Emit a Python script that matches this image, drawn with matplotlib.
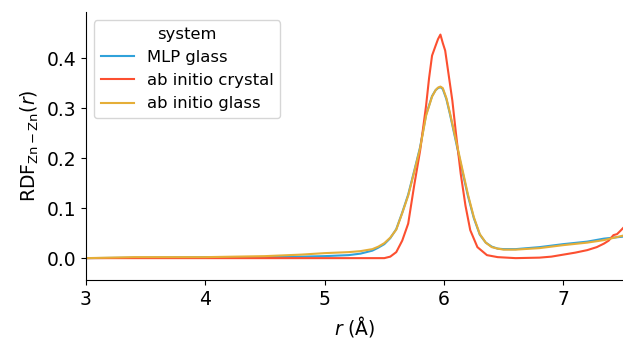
import matplotlib
matplotlib.use('Agg')
import matplotlib.pyplot as plt

# MLP glass
r_mlp = [3.0, 3.5, 4.0, 4.5, 4.8, 5.0, 5.2, 5.3, 5.4, 5.45, 5.5, 5.55, 5.6, 5.65, 5.7, 5.75,
         5.8, 5.85, 5.9, 5.93, 5.95, 5.97, 5.99, 6.02, 6.05, 6.1, 6.15, 6.2, 6.25, 6.3, 6.35,
         6.4, 6.45, 6.5, 6.6, 6.8, 7.0, 7.2, 7.34, 7.5]
g_mlp = [0.0, 0.001, 0.002, 0.002, 0.003, 0.004, 0.006, 0.009, 0.015, 0.021, 0.028, 0.040,
         0.058, 0.091, 0.127, 0.174, 0.222, 0.287, 0.324, 0.336, 0.340, 0.342, 0.338, 0.318,
         0.288, 0.233, 0.178, 0.125, 0.080, 0.047, 0.031, 0.023, 0.019, 0.018, 0.018, 0.022,
         0.028, 0.033, 0.039, 0.043]

# ab initio crystal
r_cry = [3.0, 4.0, 5.0, 5.5, 5.55, 5.6, 5.65, 5.7, 5.75, 5.8, 5.85, 5.875, 5.9, 5.93, 5.95,
         5.97, 5.99, 6.01, 6.04, 6.07, 6.1, 6.14, 6.18, 6.22, 6.28, 6.36, 6.45, 6.6, 6.8, 6.9,
         7.0, 7.1, 7.2, 7.28, 7.34, 7.38, 7.42, 7.45, 7.48, 7.5]
g_cry = [0.0, 0.0, 0.0, 0.0, 0.003, 0.012, 0.035, 0.069, 0.145, 0.215, 0.305, 0.360, 0.405,
         0.425, 0.438, 0.447, 0.430, 0.415, 0.365, 0.315, 0.250, 0.169, 0.105, 0.056, 0.022,
         0.006, 0.002, 0.0, 0.001, 0.003, 0.007, 0.011, 0.016, 0.022, 0.029, 0.035, 0.046,
         0.048, 0.055, 0.060]

# ab initio glass
r_gls = [3.0, 3.4, 4.0, 4.5, 4.8, 5.0, 5.2, 5.3, 5.4, 5.45, 5.5, 5.55, 5.6, 5.65, 5.7, 5.75,
         5.8, 5.85, 5.9, 5.93, 5.95, 5.97, 5.99, 6.02, 6.05, 6.1, 6.15, 6.2, 6.25, 6.3, 6.35,
         6.4, 6.45, 6.5, 6.6, 6.8, 7.0, 7.2, 7.34, 7.5]
g_gls = [0.0, 0.002, 0.002, 0.004, 0.007, 0.010, 0.012, 0.014, 0.018, 0.023, 0.030, 0.041,
         0.057, 0.090, 0.125, 0.172, 0.220, 0.285, 0.323, 0.336, 0.341, 0.343, 0.340, 0.320,
         0.290, 0.236, 0.182, 0.128, 0.082, 0.048, 0.031, 0.022, 0.019, 0.017, 0.017, 0.020,
         0.026, 0.031, 0.036, 0.045]

fig = plt.figure(figsize=(6.23, 3.45), dpi=100)
ax = fig.add_axes([0.138, 0.188, 0.862, 0.777])

ax.plot(r_mlp, g_mlp, color='#30a2da', lw=1.5, label='MLP glass')
ax.plot(r_cry, g_cry, color='#fc4f30', lw=1.5, label='ab initio crystal')
ax.plot(r_gls, g_gls, color='#e5ae38', lw=1.5, label='ab initio glass')

ax.set_xlim(3, 7.5)
ax.set_ylim(-0.044, 0.492)
ax.set_xticks([3, 4, 5, 6, 7])
ax.set_yticks([0.0, 0.1, 0.2, 0.3, 0.4])
ax.tick_params(labelsize=13.5)
ax.spines['top'].set_visible(False)
ax.spines['right'].set_visible(False)
ax.set_xlabel(r'$r$ (Å)', fontsize=13.5)
ax.set_ylabel(r'RDF$_{\mathrm{Zn-Zn}}(r)$', fontsize=13.5)
ax.legend(title='system', loc='upper left', fontsize=11.8, title_fontsize=11.8)

fig.savefig('out.png', dpi=100)
